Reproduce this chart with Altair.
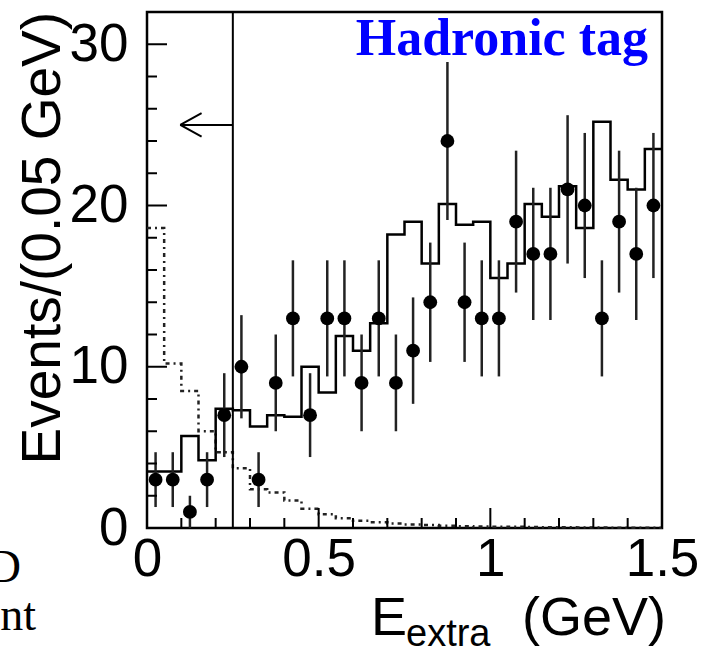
import altair as alt
import pandas as pd

# ---------------- data ----------------
bin_width = 0.05
bin_edges_start = [0.00, 0.05, 0.10, 0.15, 0.20, 0.25, 0.30, 0.35, 0.40, 0.45,
                   0.50, 0.55, 0.60, 0.65, 0.70, 0.75, 0.80, 0.85, 0.90, 0.95,
                   1.00, 1.05, 1.10, 1.15, 1.20, 1.25, 1.30, 1.35, 1.40, 1.45]
data_counts = [3, 3, 1, 3, 7, 10, 3, 9, 13, 7, 13, 13, 9, 13, 9, 11, 14, 24, 14, 13,
               13, 19, 17, 17, 21, 20, 13, 19, 17, 20]
data_errors = [1.7, 1.7, 1.0, 1.7, 2.6, 3.2, 1.7, 3.0, 3.6, 2.6, 3.6, 3.6, 3.0, 3.6, 3.0,
               3.3, 3.7, 4.9, 3.7, 3.6, 3.6, 4.4, 4.1, 4.1, 4.6, 4.5, 3.6, 4.4, 4.1, 4.5]
mc_total = [3.5, 3.5, 5.7, 4.2, 7.4, 7.3, 6.3, 7.0, 6.9, 10.0, 8.4, 11.9, 11.0, 12.7, 18.2,
            19.0, 16.4, 20.1, 18.8, 19.0, 15.5, 16.4, 20.1, 19.3, 21.2, 18.6, 25.2, 21.6, 21.0, 23.5]
signal_mc = [18.6, 10.2, 8.5, 6.0, 4.7, 3.7, 2.4, 2.2, 1.7, 1.2, 0.85, 0.6, 0.45, 0.35, 0.28,
             0.22, 0.18, 0.14, 0.11, 0.09, 0.08, 0.07, 0.06, 0.05, 0.04, 0.03, 0.03, 0.02, 0.02, 0.02]

x_label_values = [0, 0.5, 1, 1.5]
y_label_values = [0, 10, 20, 30]
x_major_ticks = [0.5, 1.0, 1.5]
x_minor_ticks = [0.1, 0.2, 0.3, 0.4, 0.6, 0.7, 0.8, 0.9, 1.1, 1.2, 1.3, 1.4]
y_major_ticks = [0, 10, 20, 30]
y_minor_ticks = [2, 4, 6, 8, 12, 14, 16, 18, 22, 24, 26, 28, 32]

cut_value = 0.25
arrow_y = 25
arrow_tip = 0.097
arrow_head_x = 0.159
arrow_head_dy = 0.73

tag_text = ["Hadronic tag"]
y_title_text = ["Events/(0.05 GeV)"]
x_title_main = ["E"]
x_title_sub = ["extra"]
x_title_unit = ["(GeV)"]
fragment_1 = ["D"]
fragment_2 = ["nt"]

# ---------------- tables ----------------
centers = [round(s + bin_width / 2, 4) for s in bin_edges_start]
pts = pd.DataFrame({
    "x": centers,
    "n": data_counts,
    "lo": [c - e for c, e in zip(data_counts, data_errors)],
    "hi": [c + e for c, e in zip(data_counts, data_errors)],
})
edges = bin_edges_start + [bin_edges_start[-1] + bin_width]
steps = pd.DataFrame({
    "x": edges,
    "mc": mc_total + [mc_total[-1]],
    "sig": signal_mc + [signal_mc[-1]],
})

W, H = 515, 516
xs = alt.Scale(domain=[0, 1.5], nice=False, zero=False)
ys = alt.Scale(domain=[0, 32], nice=False, zero=False)
FONT = "Liberation Sans"

x_axis = alt.Axis(values=x_label_values, format=".1~f", ticks=False, domain=False, grid=False,
                  labelFontSize=53, labelFont=FONT, labelColor="black", labelPadding=5,
                  labelFlush=False, labelOverlap=False, labelBound=False, title=None)
y_axis = alt.Axis(values=y_label_values, format="d", ticks=False, domain=False, grid=False,
                  labelFontSize=53, labelFont=FONT, labelColor="black", labelPadding=19,
                  labelOverlap=False, labelBound=False, labelFlush=False, title=None)

def X(field):
    return alt.X(field, scale=xs, axis=x_axis)

def Y(field):
    return alt.Y(field, scale=ys, axis=y_axis)

points = alt.Chart(pts).mark_circle(size=190, color="black", opacity=1).encode(
    x=X("x:Q"), y=Y("n:Q"))
errbars = alt.Chart(pts).mark_rule(color="#222222", strokeWidth=2.5).encode(
    x=X("x:Q"), y=Y("lo:Q"), y2="hi:Q")
mc_line = alt.Chart(steps).mark_line(interpolate="step-after", color="black", strokeWidth=2.5).encode(
    x=X("x:Q"), y=Y("mc:Q"))
sig_line = alt.Chart(steps).mark_line(interpolate="step-after", color="#222222", strokeWidth=2.5,
                                      strokeDash=[4, 4, 2, 4]).encode(
    x=X("x:Q"), y=Y("sig:Q"))

# cut line and arrow
cut_df = pd.DataFrame({"x": [cut_value]})
cut_line = alt.Chart(cut_df).mark_rule(color="black", strokeWidth=2).encode(
    x=X("x:Q"), y=alt.value(0), y2=alt.value(H))
arrow_df = pd.DataFrame({
    "x": [cut_value, arrow_tip, arrow_tip],
    "x2": [arrow_tip, arrow_head_x, arrow_head_x],
    "y": [arrow_y, arrow_y, arrow_y],
    "y2": [arrow_y, arrow_y + arrow_head_dy, arrow_y - arrow_head_dy],
})
arrow = alt.Chart(arrow_df).mark_rule(color="black", strokeWidth=2).encode(
    x=X("x:Q"), x2="x2:Q", y=Y("y:Q"), y2="y2:Q")

# inward ticks
xmaj = alt.Chart(pd.DataFrame({"x": x_major_ticks})).mark_rule(color="black", strokeWidth=2).encode(
    x=X("x:Q"), y=alt.value(H), y2=alt.value(H - 20))
xmin = alt.Chart(pd.DataFrame({"x": x_minor_ticks})).mark_rule(color="black", strokeWidth=2).encode(
    x=X("x:Q"), y=alt.value(H), y2=alt.value(H - 10))
ymaj = alt.Chart(pd.DataFrame({"y": y_major_ticks})).mark_rule(color="black", strokeWidth=2).encode(
    y=Y("y:Q"), x=alt.value(0), x2=alt.value(20))
ymin = alt.Chart(pd.DataFrame({"y": y_minor_ticks})).mark_rule(color="black", strokeWidth=2).encode(
    y=Y("y:Q"), x=alt.value(0), x2=alt.value(10))

# texts
def txt(values, x, y, **kw):
    return alt.Chart(pd.DataFrame({"s": values})).mark_text(**kw).encode(
        text="s:N", x=alt.value(x), y=alt.value(y))

tag = txt(tag_text, 501, 43, align="right", baseline="alphabetic", font="Liberation Serif",
          fontWeight="bold", fontSize=52, color="#0000ff")
ytitle = txt(y_title_text, -87, 0, align="right", baseline="alphabetic", angle=270,
             font=FONT, fontSize=55, color="black")
xt1 = txt(x_title_main, 224, 623, align="left", baseline="alphabetic", font=FONT, fontSize=54, color="black")
xt2 = txt(x_title_sub, 259, 634, align="left", baseline="alphabetic", font=FONT, fontSize=38, color="black")
xt3 = txt(x_title_unit, 375, 623, align="left", baseline="alphabetic", font=FONT, fontSize=54, color="black")
fr1 = txt(fragment_1, -126, 570, align="right", baseline="alphabetic", font="Liberation Serif",
          fontSize=46, color="black")
fr2 = txt(fragment_2, -111, 618, align="right", baseline="alphabetic", font="Liberation Serif",
          fontSize=46, color="black")

chart = alt.layer(
    sig_line, mc_line, errbars, points, cut_line, arrow, xmaj, xmin, ymaj, ymin,
    tag, ytitle, xt1, xt2, xt3, fr1, fr2,
).properties(
    width=W, height=H,
    padding={"left": 147, "top": 12, "right": 40, "bottom": 126},
    autosize=alt.AutoSizeParams(type="none"),
    background="white",
).configure_view(stroke="black", strokeWidth=2.5)

chart.save("out.html", embed_options={"renderer": "svg", "actions": False})
